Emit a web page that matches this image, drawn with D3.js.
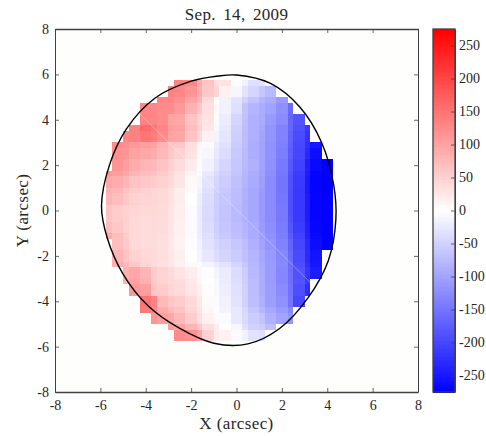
<!DOCTYPE html>
<html>
<head>
<meta charset="utf-8">
<script src="https://cdn.jsdelivr.net/npm/d3@7"></script>
<style>
    html, body { margin: 0; padding: 0; background: #fff; overflow: hidden; }
    text { font-family: "Liberation Serif", "DejaVu Serif", serif; fill: #262626; }
</style>
</head>
<body>
<div id="chart"></div>
<script>
// edges of the resampled pixels, arcsec
const xEdges = [-5.75, -5.5, -5, -4.75, -4.25, -3.75, -3.5, -3, -2.75, -2.25, -1.75, -1.5, -1, -0.75, -0.25, 0.25, 0.5, 1, 1.25, 1.75, 2.25, 2.5, 3, 3.25, 3.75, 4.25];
const yEdges = [5.75, 5.5, 5, 4.75, 4.25, 3.75, 3.5, 3, 2.75, 2.25, 1.75, 1.5, 1, 0.75, 0.25, -0.25, -0.5, -1, -1.25, -1.75, -2.25, -2.5, -3, -3.25, -3.75, -4.25, -4.5, -5, -5.25, -5.75];

// first filled column of each row
const rowStart = [8, 7, 6, 4, 4, 3, 2, 1, 1, 1, 0, 0, 0, 0, 0, 0, 0, 0, 1, 1, 1, 2, 2, 3, 4, 4, 5, 7, 8];

// line of sight velocity, km/s, top row first
const velocity = [
    [135, 130, 90, 65, 35, 30, 3, -15, -35, -30],
    [135, 130, 115, 90, 60, 45, 15, -10, -30, -45, -60, -75],
    [130, 130, 120, 100, 80, 40, 0, -15, -30, -50, -65, -80, -90, -110],
    [130, 130, 125, 125, 110, 85, 60, 35, 5, -15, -35, -65, -80, -90, -100, -120, -160],
    [135, 130, 125, 100, 95, 65, 45, 30, -5, -20, -45, -68, -85, -92, -110, -125, -165, -185],
    [135, 160, 150, 130, 105, 100, 70, 50, 25, -8, -25, -50, -70, -85, -95, -115, -135, -165, -190, -215],
    [130, 135, 150, 140, 125, 100, 95, 65, 40, 15, -12, -28, -52, -72, -85, -98, -115, -135, -170, -195, -220],
    [125, 120, 110, 105, 100, 80, 65, 60, 35, 10, -5, -20, -32, -55, -72, -88, -100, -118, -138, -172, -198, -225, -250],
    [120, 115, 100, 95, 90, 75, 60, 50, 30, 5, -10, -25, -38, -58, -74, -88, -100, -118, -140, -175, -200, -232, -260],
    [115, 105, 90, 80, 75, 65, 50, 38, 22, 2, -15, -30, -45, -60, -75, -85, -100, -120, -145, -180, -205, -240, -265, -275],
    [110, 105, 95, 80, 70, 65, 55, 45, 30, 12, -5, -25, -38, -50, -62, -78, -90, -102, -122, -148, -185, -210, -245, -270, -275],
    [95, 90, 80, 65, 60, 55, 48, 40, 28, 8, -10, -30, -45, -55, -68, -82, -92, -105, -125, -150, -188, -212, -248, -272, -275],
    [85, 80, 65, 55, 50, 45, 42, 32, 18, 5, -15, -35, -50, -58, -70, -85, -95, -108, -125, -150, -190, -215, -248, -272, -275],
    [80, 70, 60, 50, 46, 45, 42, 30, 20, 0, -18, -38, -52, -62, -72, -85, -95, -110, -125, -148, -190, -215, -245, -270, -275],
    [65, 55, 50, 45, 42, 42, 40, 28, 18, -3, -20, -40, -54, -64, -74, -85, -95, -110, -125, -145, -190, -215, -245, -270, -275],
    [65, 55, 48, 42, 38, 40, 38, 28, 18, -4, -20, -40, -54, -65, -75, -85, -95, -110, -125, -145, -188, -215, -245, -270, -275],
    [70, 60, 50, 42, 38, 40, 38, 27, 17, -4, -20, -38, -52, -62, -72, -82, -92, -108, -122, -142, -182, -210, -242, -268, -275],
    [90, 70, 55, 42, 38, 40, 36, 26, 15, -3, -18, -34, -48, -58, -68, -78, -90, -105, -120, -140, -175, -205, -238, -265, -275],
    [70, 58, 42, 38, 38, 36, 25, 14, -2, -14, -30, -42, -50, -60, -72, -85, -100, -115, -135, -168, -200, -232, -262, -275],
    [80, 65, 50, 42, 40, 36, 26, 16, -1, -12, -26, -38, -46, -56, -68, -80, -95, -110, -130, -162, -196, -230, -255],
    [85, 75, 60, 46, 38, 35, 26, 15, 5, -3, -12, -22, -30, -45, -60, -78, -92, -108, -128, -158, -192, -225, -250],
    [85, 95, 80, 55, 46, 40, 30, 20, 8, -2, -12, -22, -38, -55, -75, -90, -108, -130, -155, -188, -218, -245],
    [85, 100, 85, 58, 46, 42, 38, 25, 10, 0, -8, -20, -36, -52, -72, -88, -108, -130, -155, -185, -215],
    [110, 105, 62, 56, 46, 40, 28, 15, 3, -8, -18, -32, -50, -72, -88, -106, -125, -152, -190, -225],
    [150, 135, 75, 62, 55, 40, 25, 5, -5, -15, -30, -50, -70, -85, -105, -120, -150, -200],
    [145, 130, 90, 75, 65, 45, 30, 10, -2, -12, -25, -42, -62, -78, -95, -110, -130],
    [115, 105, 95, 75, 55, 35, 15, 5, -5, -25, -40, -55, -65, -85, -100, -115],
    [105, 100, 80, 60, 35, 20, 0, -10, -35, -50, -55, -70],
    [125, 120, 95, 50, 20, 15, -5, -15, -30, -35]
];

// outline of the disk, arcsec
const limbX = [0, 1.5, 2.8, 3.75, 4.28, 4.38, 4.05, 3.15, 1.9, 0.5, -1, -2.5, -3.9, -5.0, -5.7, -5.95, -5.6, -4.85, -3.6, -2, -0.8];
const limbY = [5.97, 5.6, 4.55, 3.0, 1.15, -0.4, -2.2, -3.85, -5.2, -5.88, -5.85, -5.2, -4.2, -2.8, -1.2, 0.2, 2.0, 3.6, 4.95, 5.7, 5.93];

const axisTicks = [-8, -6, -4, -2, 0, 2, 4, 6, 8];
const barTicks = [-250, -200, -150, -100, -50, 0, 50, 100, 150, 200, 250];
const barMax = 275;

const width = 486, height = 436;
const plotLeft = 55, plotRight = 418, plotTop = 29, plotBottom = 392;
const barLeft = 433, barRight = 455;

const svg = d3.select("#chart").append("svg")
    .attr("width", width)
    .attr("height", height);

const x = d3.scaleLinear().domain([-8, 8]).range([plotLeft, plotRight]);
const y = d3.scaleLinear().domain([-8, 8]).range([plotBottom, plotTop]);
const color = d3.scaleLinear().domain([-barMax, 0, barMax]).range(["#0000ff", "#ffffff", "#ff0000"]);
const barY = d3.scaleLinear().domain([-barMax, barMax]).range([plotBottom, plotTop]);

// plot background, slightly off white outside the disk
svg.append("rect")
    .attr("x", plotLeft).attr("y", plotTop)
    .attr("width", plotRight - plotLeft).attr("height", plotBottom - plotTop)
    .attr("fill", "#fefefc");

const limbPoints = limbX.map((d, i) => [x(d), y(limbY[i])]);
const limbLine = d3.line().curve(d3.curveCatmullRomClosed.alpha(0.5));

svg.append("path")
    .attr("d", limbLine(limbPoints))
    .attr("fill", "#ffffff");

// velocity cells
const cells = [];
velocity.forEach((row, r) => {
    row.forEach((v, i) => {
        cells.push({ c: rowStart[r] + i, r: r, v: v });
    });
});

svg.append("g")
    .attr("shape-rendering", "crispEdges")
    .selectAll("rect")
    .data(cells)
    .enter().append("rect")
    .attr("x", d => x(xEdges[d.c]))
    .attr("y", d => y(yEdges[d.r]))
    .attr("width", d => x(xEdges[d.c + 1]) - x(xEdges[d.c]))
    .attr("height", d => y(yEdges[d.r + 1]) - y(yEdges[d.r]))
    .attr("fill", d => color(d.v));

// faint seam across the map
svg.append("line")
    .attr("x1", x(-4.25)).attr("y1", y(4.25))
    .attr("x2", x(3.28)).attr("y2", y(-3.2))
    .attr("stroke", "#ffffff")
    .attr("stroke-opacity", 0.3)
    .attr("stroke-width", 1);

svg.append("path")
    .attr("d", limbLine(limbPoints))
    .attr("fill", "none")
    .attr("stroke", "#000000")
    .attr("stroke-width", 1.4);

// axes, ticks point inwards on all four sides
function styleAxis(g, edge) {
    g.selectAll("path").attr("stroke", "#404040").attr("stroke-width", edge || 1);
    g.selectAll("line").attr("stroke", "#404040").attr("stroke-width", 0.8);
    g.selectAll("text").attr("font-size", 14).attr("font-family", "Liberation Serif").attr("fill", "#262626");
}

const fmt = d3.format("d");
const plain = d => fmt(d).replace("\u2212", "-");

svg.append("g")
    .attr("transform", `translate(0,${plotBottom})`)
    .call(d3.axisBottom(x).tickValues(axisTicks).tickSize(-4).tickSizeOuter(0).tickPadding(8).tickFormat(plain))
    .call(styleAxis, 1.6);

svg.append("g")
    .attr("transform", `translate(${plotLeft},0)`)
    .call(d3.axisLeft(y).tickValues(axisTicks).tickSize(-4).tickSizeOuter(0).tickPadding(6).tickFormat(plain))
    .call(styleAxis);

svg.append("g")
    .attr("transform", `translate(0,${plotTop})`)
    .call(d3.axisTop(x).tickValues(axisTicks).tickSize(-4).tickSizeOuter(0).tickFormat(""))
    .call(styleAxis, 1.6);

svg.append("g")
    .attr("transform", `translate(${plotRight},0)`)
    .call(d3.axisRight(y).tickValues(axisTicks).tickSize(-4).tickSizeOuter(0).tickFormat(""))
    .call(styleAxis);

// colour bar
const barSteps = d3.range(-barMax, barMax, 2);
svg.append("g")
    .attr("shape-rendering", "crispEdges")
    .selectAll("rect")
    .data(barSteps)
    .enter().append("rect")
    .attr("x", barLeft)
    .attr("y", d => barY(d + 2))
    .attr("width", barRight - barLeft)
    .attr("height", d => barY(d) - barY(d + 2) + 0.5)
    .attr("fill", d => color(d + 1));

svg.append("rect")
    .attr("x", barLeft).attr("y", plotTop)
    .attr("width", barRight - barLeft).attr("height", plotBottom - plotTop)
    .attr("fill", "none")
    .attr("stroke", "#404040")
    .attr("stroke-width", 1.3);

svg.append("g")
    .attr("transform", `translate(${barRight},0)`)
    .call(d3.axisRight(barY).tickValues(barTicks).tickSize(-4).tickSizeOuter(0).tickPadding(4).tickFormat(plain))
    .call(styleAxis);

// labels
svg.append("text")
    .attr("x", x(0))
    .attr("y", 20)
    .attr("text-anchor", "middle")
    .attr("font-size", 17)
    .attr("letter-spacing", 0.3)
    .attr("word-spacing", 3)
    .text("Sep. 14, 2009");

svg.append("text")
    .attr("x", x(0))
    .attr("y", 429)
    .attr("text-anchor", "middle")
    .attr("font-size", 17)
    .attr("letter-spacing", 0.4)
    .text("X (arcsec)");

svg.append("text")
    .attr("transform", `translate(28,${y(0)}) rotate(-90)`)
    .attr("text-anchor", "middle")
    .attr("font-size", 17)
    .attr("letter-spacing", 0.4)
    .text("Y (arcsec)");
</script>
</body>
</html>
